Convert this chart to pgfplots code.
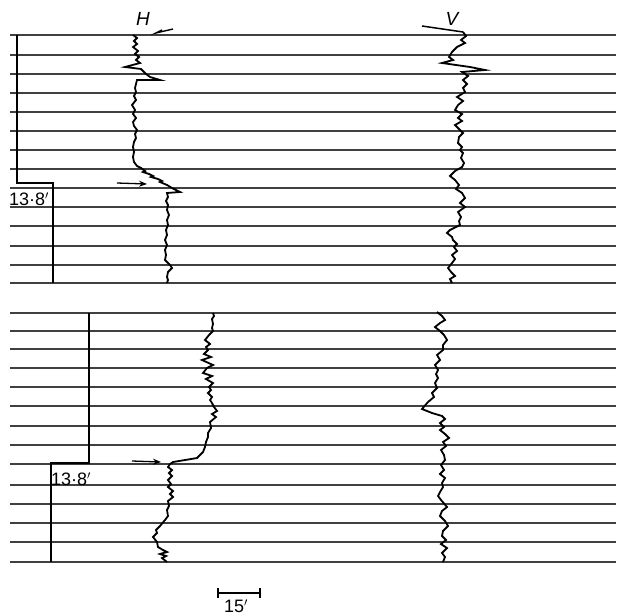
\documentclass[border=0pt]{standalone}
\usepackage{pgfplots}
\pgfplotsset{compat=1.18}
\usepackage{fontspec}
\setmainfont{Liberation Sans}
\usetikzlibrary{arrows.meta}
\begin{document}
\begin{tikzpicture}
\begin{axis}[width=618pt,height=615pt,scale only axis,
  xmin=0,xmax=618,ymin=0,ymax=615,y dir=reverse,
  axis lines=none,clip=false]
\addplot[draw=none] coordinates {(0,0)(618,615)};
% horizontal recording lines
\pgfplotsinvokeforeach{35,55,74,93,112,131,150,169,188,207,226,246,265,283}{
  \addplot[black!75,line width=1.7pt] coordinates {(10,#1)(616,#1)};
}
\pgfplotsinvokeforeach{313,331,349,368,387,406,426,445,464,485,504,523,542,562}{
  \addplot[black!75,line width=1.7pt] coordinates {(10,#1)(616,#1)};
}
% step markers
\addplot[black,line width=1.6pt] coordinates {(17,35)(17,183)(53,183)(53,283)};
\addplot[black,line width=1.6pt] coordinates {(89,313)(89,463)(51,463)(51,562)};
% arrows
\addplot[black,line width=1.3pt,-{Stealth[length=8pt,width=6pt]}] coordinates {(117,183)(147,184)};
\addplot[black,line width=1.3pt,-{Stealth[length=8pt,width=6pt]}] coordinates {(132,461)(161,462)};
\addplot[black,line width=1.4pt] coordinates {(173,29)(156,33)(162,30)};
% H top
\addplot[black,line width=1.8pt] coordinates {
(133,35)(137,38)(134,41)(137,44)(133,47)(138,51)(135,54)(139,57)(136,60)(140,63)(125,67)(141,69)(146,74)(150,77)(160,80)(137,80)(136,84)(135,88)(136,92)(134,96)(136,100)(132,105)(135,110)(133,114)(136,118)(133,122)(134,126)(137,130)(135,134)(136,138)(134,142)(133,147)(134,152)(133,157)(134,162)(137,166)(141,168)(145,171)(143,172)(149,174)(153,176)(151,177)(158,179)(162,181)(160,182)(167,185)(172,188)(180,192)(167,193)(168,197)(166,201)(168,205)(167,210)(169,215)(167,220)(168,225)(166,230)(167,235)(165,240)(167,245)(165,250)(166,255)(165,260)(170,265)(172,268)(168,272)(167,277)(168,280)(167,283)};
% V top
\addplot[black,line width=1.5pt] coordinates {(422,26)(463,32)};
\addplot[black,line width=1.8pt] coordinates {
(463,32)(466,36)(461,40)(465,43)(457,47)(452,52)(449,57)(453,60)(442,63)(470,67)(485,70)(462,72)(468,76)(463,80)(467,84)(463,88)(465,92)(457,97)(463,101)(458,105)(455,110)(462,114)(458,118)(462,121)(455,125)(459,129)(463,133)(459,137)(458,143)(462,147)(460,150)(463,153)(461,158)(464,163)(462,167)(455,171)(450,176)(455,180)(459,185)(456,189)(462,193)(465,198)(460,203)(465,207)(458,212)(461,217)(459,221)(460,225)(450,230)(447,233)(452,237)(453,240)(457,244)(454,247)(457,251)(452,255)(455,259)(452,263)(448,268)(451,272)(455,276)(450,279)(452,283)};
% H bottom
\addplot[black,line width=1.8pt] coordinates {
(213,313)(214,316)(212,319)(213,324)(212,328)(213,331)(209,335)(205,340)(210,344)(206,347)(208,350)(204,354)(211,357)(202,360)(213,365)(207,368)(203,373)(212,376)(206,379)(213,383)(209,387)(211,390)(208,393)(212,397)(210,400)(212,403)(214,407)(217,411)(212,414)(216,417)(210,422)(211,428)(208,433)(208,437)(206,442)(205,447)(203,452)(197,458)(185,460)(173,462)(170,464)(168,467)(172,470)(169,473)(172,476)(168,480)(171,484)(168,487)(173,491)(170,494)(173,497)(168,501)(169,506)(167,510)(168,516)(165,520)(160,526)(156,530)(157,533)(153,537)(157,542)(158,547)(163,550)(167,552)(160,554)(166,556)(162,558)(167,562)};
% V bottom
\addplot[black,line width=1.8pt] coordinates {
(437,312)(442,316)(445,320)(440,323)(435,327)(440,331)(444,335)(447,340)(443,345)(443,350)(437,355)(440,360)(435,365)(438,370)(436,374)(438,378)(435,383)(437,388)(432,393)(434,397)(428,402)(422,409)(432,413)(442,416)(445,419)(440,423)(444,427)(440,430)(445,434)(449,438)(443,442)(446,446)(441,450)(444,455)(445,460)(441,465)(444,470)(440,474)(445,478)(442,483)(443,487)(440,492)(438,496)(441,500)(447,507)(442,511)(440,516)(445,521)(448,526)(443,531)(442,536)(446,540)(441,544)(447,548)(442,553)(445,557)(443,562)};
% scale bar
\addplot[black,line width=1.6pt] coordinates {(218,593)(260,593)};
\addplot[black,line width=1.6pt] coordinates {(218,588)(218,598)};
\addplot[black,line width=1.6pt] coordinates {(260,588)(260,598)};
% labels
\node[font=\fontsize{19}{19}\selectfont\itshape] at (axis cs:143,19) {H};
\node[font=\fontsize{19}{19}\selectfont\itshape] at (axis cs:452,19) {V};
\node[font=\fontsize{18}{18}\selectfont,inner sep=0pt] at (axis cs:29,199) {13·8$'$};
\node[font=\fontsize{18}{18}\selectfont,inner sep=0pt] at (axis cs:71,479) {13·8$'$};
\node[font=\fontsize{18}{18}\selectfont,inner sep=0pt] at (axis cs:236,606) {15$'$};
\end{axis}
\end{tikzpicture}
\end{document}
